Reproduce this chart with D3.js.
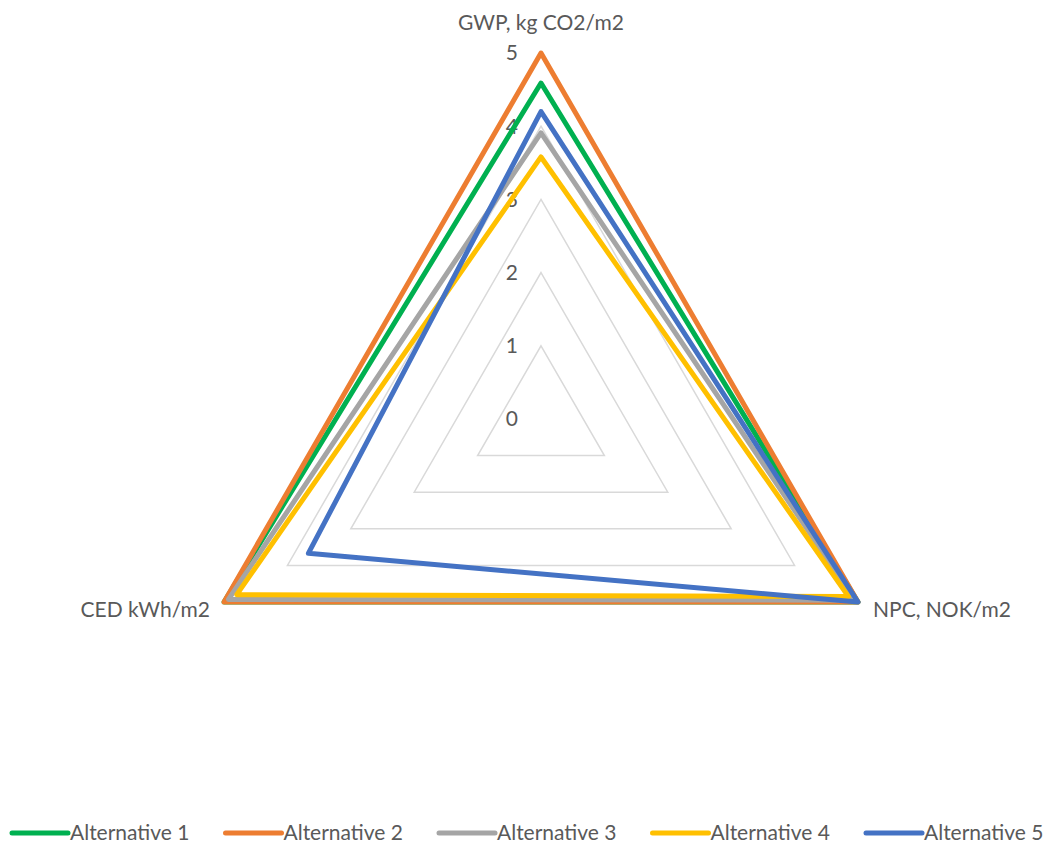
<!DOCTYPE html>
<html>
<head>
<meta charset="utf-8">
<script src="https://cdn.jsdelivr.net/npm/d3@7"></script>
<style>
  body { margin: 0; background: #fff; }
  text { font-family: Lato, "Open Sans", sans-serif; fill: #595959; }
</style>
</head>
<body>
<svg id="chart" width="1051" height="843"></svg>
<script>
// axes of the radar, clockwise from the top
var axisNames = ['GWP, kg CO2/m2', 'NPC, NOK/m2', 'CED kWh/m2'];
var tickValues = [0, 1, 2, 3, 4, 5];

var seriesNames = ['Alternative 1', 'Alternative 2', 'Alternative 3', 'Alternative 4', 'Alternative 5'];
var seriesColors = ['#00b050', '#ed7d31', '#a5a5a5', '#ffc000', '#4472c4'];

var alt1 = [4.59, 5, 5];
var alt2 = [5, 5, 5];
var alt3 = [3.91, 4.95, 4.93];
var alt4 = [3.58, 4.85, 4.8];
var alt5 = [4.2, 5, 3.67];

var seriesValues = [alt1, alt2, alt3, alt4, alt5];

var svg = d3.select('#chart');
var cx = 541, cy = 419;

var r = d3.scaleLinear().domain([0, 5]).range([0, 366]);
var angle = d3.scalePoint().domain(d3.range(axisNames.length)).range([0, 2 * Math.PI * 2 / 3]);

var line = d3.lineRadial()
  .angle(function(d, i) { return angle(i); })
  .radius(function(d) { return r(d); })
  .curve(d3.curveLinearClosed);

var g = svg.append('g').attr('transform', 'translate(' + cx + ',' + cy + ')');

// grid triangles
g.selectAll('path.grid')
  .data(tickValues.filter(function(t) { return t > 0; }))
  .enter().append('path')
  .attr('class', 'grid')
  .attr('d', function(t) { return line(axisNames.map(function() { return t; })); })
  .attr('fill', 'none')
  .attr('stroke', '#d9d9d9')
  .attr('stroke-width', 1.5);

// tick labels up the first axis
g.selectAll('text.tick')
  .data(tickValues)
  .enter().append('text')
  .attr('class', 'tick')
  .attr('x', -23)
  .attr('y', function(t) { return -r(t); })
  .attr('dy', '0.35em')
  .attr('text-anchor', 'end')
  .attr('font-size', 21)
  .text(function(t) { return t; });

// series
g.selectAll('path.series')
  .data(seriesValues)
  .enter().append('path')
  .attr('class', 'series')
  .attr('d', function(d) { return line(d); })
  .attr('fill', 'none')
  .attr('stroke', function(d, i) { return seriesColors[i]; })
  .attr('stroke-width', 5)
  .attr('stroke-linejoin', 'round');

// axis titles
var axisLabelPos = [
  { x: 0, y: -396, anchor: 'middle' },
  { x: 332, y: 191, anchor: 'start' },
  { x: -331, y: 191, anchor: 'end' }
];
g.selectAll('text.axisname')
  .data(axisNames)
  .enter().append('text')
  .attr('class', 'axisname')
  .attr('x', function(d, i) { return axisLabelPos[i].x; })
  .attr('y', function(d, i) { return axisLabelPos[i].y; })
  .attr('dy', '0.35em')
  .attr('text-anchor', function(d, i) { return axisLabelPos[i].anchor; })
  .attr('font-size', 21)
  .text(function(d) { return d; });

// legend
var legend = svg.append('g').attr('transform', 'translate(12,833)');
var item = legend.selectAll('g')
  .data(seriesNames)
  .enter().append('g')
  .attr('transform', function(d, i) { return 'translate(' + (i * 213.5) + ',0)'; });
item.append('line')
  .attr('x1', 0).attr('x2', 56)
  .attr('stroke', function(d, i) { return seriesColors[i]; })
  .attr('stroke-width', 5)
  .attr('stroke-linecap', 'round');
item.append('text')
  .attr('x', 58)
  .attr('dy', '0.35em')
  .attr('font-size', 21)
  .text(function(d) { return d; });
</script>
</body>
</html>
